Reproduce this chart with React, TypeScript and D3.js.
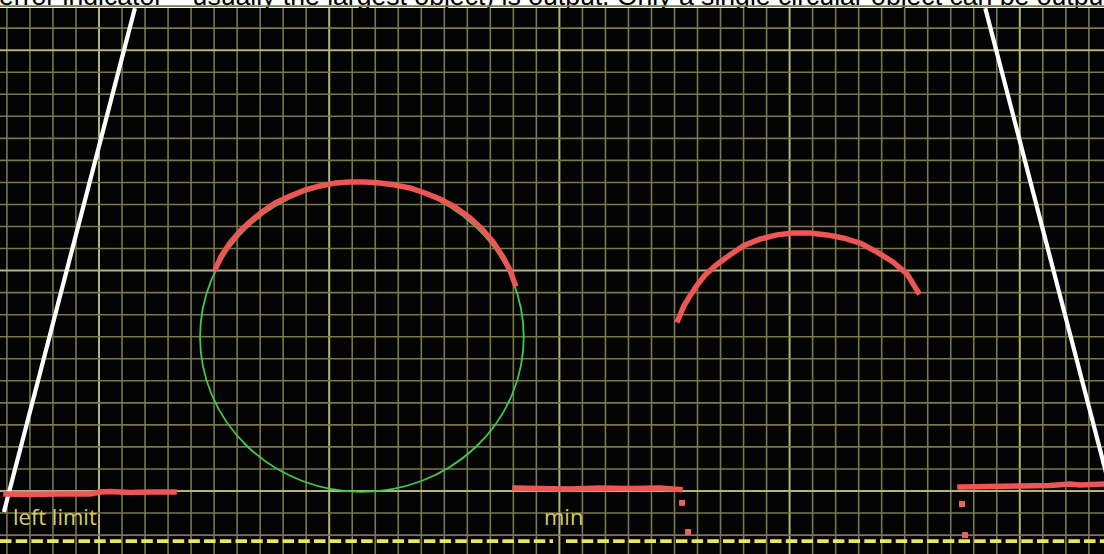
import React from "react";
import * as d3 from "d3";

// Profile data in mm (minor grid = 10 mm, major grid = 100 mm)
const bigArcX = [50.8, 53.4, 56.9, 61.3, 65.6, 70.8, 76.5, 83.0, 89.5, 96.0, 102.5, 109.0, 115.6, 122.1, 128.6, 135.1, 141.6, 148.1, 154.6, 161.2, 166.4, 171.2, 175.5, 178.5, 180.7];
const bigArcY = [101.2, 107.1, 112.5, 118.0, 122.1, 126.6, 130.7, 133.8, 136.6, 138.4, 139.7, 140.2, 140.2, 139.7, 138.8, 137.5, 135.2, 132.5, 128.9, 123.9, 118.9, 113.0, 106.2, 100.3, 93.9];

const smallArcX = [251.5, 254.1, 256.7, 259.8, 263.3, 267.6, 272.8, 279.8, 287.1, 294.5, 301.5, 308.9, 316.2, 323.2, 330.6, 338.0, 344.9, 351.0, 355.8];
const smallArcY = [77.6, 84.0, 88.5, 93.4, 98.0, 102.1, 106.2, 111.2, 114.3, 116.2, 117.1, 117.1, 116.2, 114.8, 112.5, 108.4, 103.9, 98.5, 90.3];

const leftFloorX = [-40.4, -30.0, -16.9, -3.9, 0.4, 4.8, 13.5, 22.2, 32.6];
const leftFloorY = [-1.36, -1.59, -1.36, -1.36, -0.45, -0.23, -0.68, -0.45, -0.45];

const midFloorX = [180.7, 191.6, 204.6, 217.6, 230.7, 243.7, 252.4];
const midFloorY = [1.36, 1.13, 0.91, 1.36, 1.13, 1.36, 0.68];

const rightFloorX = [374.0, 387.1, 400.1, 413.1, 421.8, 426.2, 436.6];
const rightFloorY = [1.8, 2.0, 2.3, 2.5, 3.2, 2.7, 3.2];

const strayX = [253.3, 255.9, 374.9, 376.2];
const strayY = [-5.4, -18.6, -5.9, -20.0];

// Fitted circle
const circleCenter = [114.2, 69.9];
const circleRadius = 70.3;

// Field-of-view limits (top, bottom)
const leftLimitX = [15.6, -41.3];
const leftLimitY = [219.1, -9.5];
const rightLimitX = [385.0, 441.9];
const rightLimitY = [219.1, -9.5];

const minLevel = -22.7;
const headerText = "error indicator – usually the largest object) is output. Only a single circular object can be output.";

const W = 1104;
const H = 554;
const TOP = 8;

export default function App() {
  const x = d3.scaleLinear().domain([0, 100]).range([99, 329.2]);
  const y = d3.scaleLinear().domain([0, 100]).range([491, 270.6]);

  const gx = d3.range(-40, 440, 10);
  const gy = d3.range(-20, 230, 10);

  const line = d3
    .line<[number, number]>()
    .x((d) => x(d[0]))
    .y((d) => y(d[1]));

  const zip = (a: number[], b: number[]) => a.map((v, i) => [v, b[i]] as [number, number]);
  const profiles = [
    zip(bigArcX, bigArcY),
    zip(smallArcX, smallArcY),
    zip(leftFloorX, leftFloorY),
    zip(midFloorX, midFloorY),
    zip(rightFloorX, rightFloorY),
  ];

  const rx = x(circleRadius) - x(0);
  const ry = y(0) - y(circleRadius);

  const dashY = y(minLevel);
  const labelColor = "#d4cc68";
  const minorC = "#78784a";
  const majorC = "#b4b47a";

  return (
    <svg
      width={W}
      height={H}
      style={{ position: "absolute", left: 0, top: 0, display: "block" }}
    >
      <rect x={0} y={0} width={W} height={TOP} fill="#ffffff" />
      <text
        x={-1}
        y={4.5}
        fontFamily="Liberation Sans, Arial, sans-serif"
        fontSize={26.6}
        fill="#000"
      >
        {headerText}
      </text>
      <rect x={0} y={TOP} width={W} height={H - TOP} fill="#030303" />

      <g>
        {gx.map((v) => (
          <line
            key={"gx" + v}
            x1={x(v)}
            x2={x(v)}
            y1={TOP}
            y2={H}
            stroke={v % 100 === 0 ? majorC : minorC}
            strokeWidth={v % 100 === 0 ? 2 : 1.6}
          />
        ))}
        {gy.map((v) => (
          <line
            key={"gy" + v}
            x1={0}
            x2={W}
            y1={y(v)}
            y2={y(v)}
            stroke={v % 100 === 0 ? majorC : minorC}
            strokeWidth={v % 100 === 0 ? 2 : 1.6}
          />
        ))}
      </g>

      <line
        x1={x(leftLimitX[0])}
        y1={y(leftLimitY[0])}
        x2={x(leftLimitX[1])}
        y2={y(leftLimitY[1])}
        stroke="#ffffff"
        strokeWidth={4.2}
      />
      <line
        x1={x(rightLimitX[0])}
        y1={y(rightLimitY[0])}
        x2={x(rightLimitX[1])}
        y2={y(rightLimitY[1])}
        stroke="#ffffff"
        strokeWidth={4.2}
      />

      <ellipse
        cx={x(circleCenter[0])}
        cy={y(circleCenter[1])}
        rx={rx}
        ry={ry}
        fill="none"
        stroke="#3fc94a"
        strokeWidth={1.8}
      />

      {profiles.map((p, i) => (
        <path
          key={"p" + i}
          d={line(p) || ""}
          fill="none"
          stroke="#ec5654"
          strokeWidth={5.5}
          strokeLinejoin="round"
          strokeLinecap="square"
        />
      ))}
      {strayX.map((v, i) => (
        <rect
          key={"s" + i}
          x={x(v) - 3}
          y={y(strayY[i]) - 3}
          width={6}
          height={6}
          fill="#e26666"
        />
      ))}

      <line
        x1={0}
        x2={553}
        y1={dashY}
        y2={dashY}
        stroke="#ece466"
        strokeWidth={3.8}
        strokeDasharray="11.5 4.2"
      />
      <line
        x1={566}
        x2={W}
        y1={dashY}
        y2={dashY}
        stroke="#ece466"
        strokeWidth={3.8}
        strokeDasharray="11.5 4.2"
      />

      <text
        x={13}
        y={525}
        fontFamily="Open Sans, Noto Sans, sans-serif"
        fontSize={22}
        fill={labelColor}
      >
        left limit
      </text>
      <text
        x={544}
        y={525}
        fontFamily="Open Sans, Noto Sans, sans-serif"
        fontSize={22}
        fill={labelColor}
      >
        min
      </text>
    </svg>
  );
}
